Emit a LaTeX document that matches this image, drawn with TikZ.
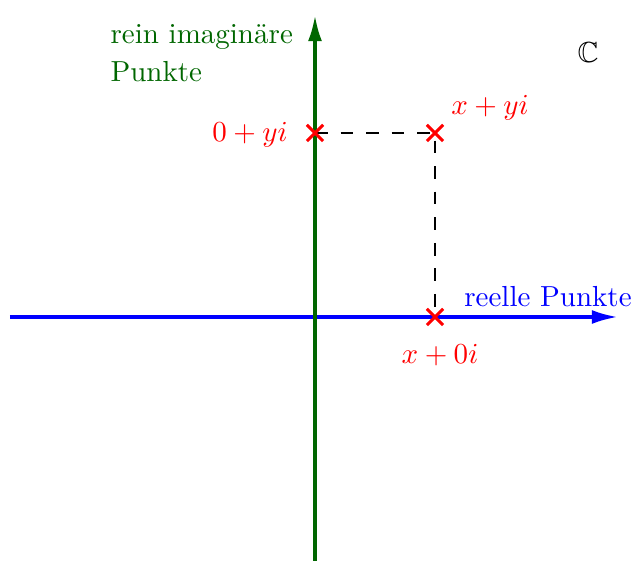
\documentclass[tikz,border=0pt]{standalone}
\usepackage{amssymb}
\usetikzlibrary{arrows.meta,shapes.misc}
\definecolor{dgreen}{rgb}{0,0.4,0}
\tikzset{
  axisline/.style={line width=1.2pt,-{Latex[length=9pt,width=4.8pt]}},
  ptmark/.style={cross out,draw=red,line width=1pt,minimum size=4.6pt,inner sep=0pt},
  ptlabel/.style={text=red,inner sep=0pt},
  helper/.style={dash pattern=on 4.4pt off 4.4pt,line width=0.4pt,black}
}
\begin{document}
\begin{tikzpicture}[x=0.3447pt,y=-0.3447pt]
\useasboundingbox (0,0) rectangle (633,561);
\coordinate (L) at (10,317);
\coordinate (R) at (618,317);
\coordinate (B) at (315,561);
\coordinate (T) at (315,15);
\draw[axisline,blue] (L) -- (R);
\draw[axisline,dgreen] (B) -- (T);
\coordinate (yi) at (315,133);
\coordinate (z) at (435,133);
\coordinate (x0) at (435,317);
\draw[helper] (yi) -- (z) -- (x0);
\node[ptmark] (myi) at (yi) {};
\node[ptmark] (mz) at (z) {};
\node[ptmark] (mx0) at (x0) {};
\node[ptlabel] (lz) at (490,108) {$x+yi$};
\node[ptlabel] (lyi) at (250,135) {$0+yi$};
\node[ptlabel] (lx) at (440,355) {$x+0i$};
\node[text=blue,inner sep=0pt] (re) at (548,297) {reelle Punkte};
\node[text=dgreen,inner sep=0pt,align=left,anchor=north west] (im) at (110,24) {rein imagin\"are\\[1pt]Punkte};
\node[inner sep=0pt] (C) at (588,53) {$\mathbb{C}$};
\end{tikzpicture}
\end{document}
